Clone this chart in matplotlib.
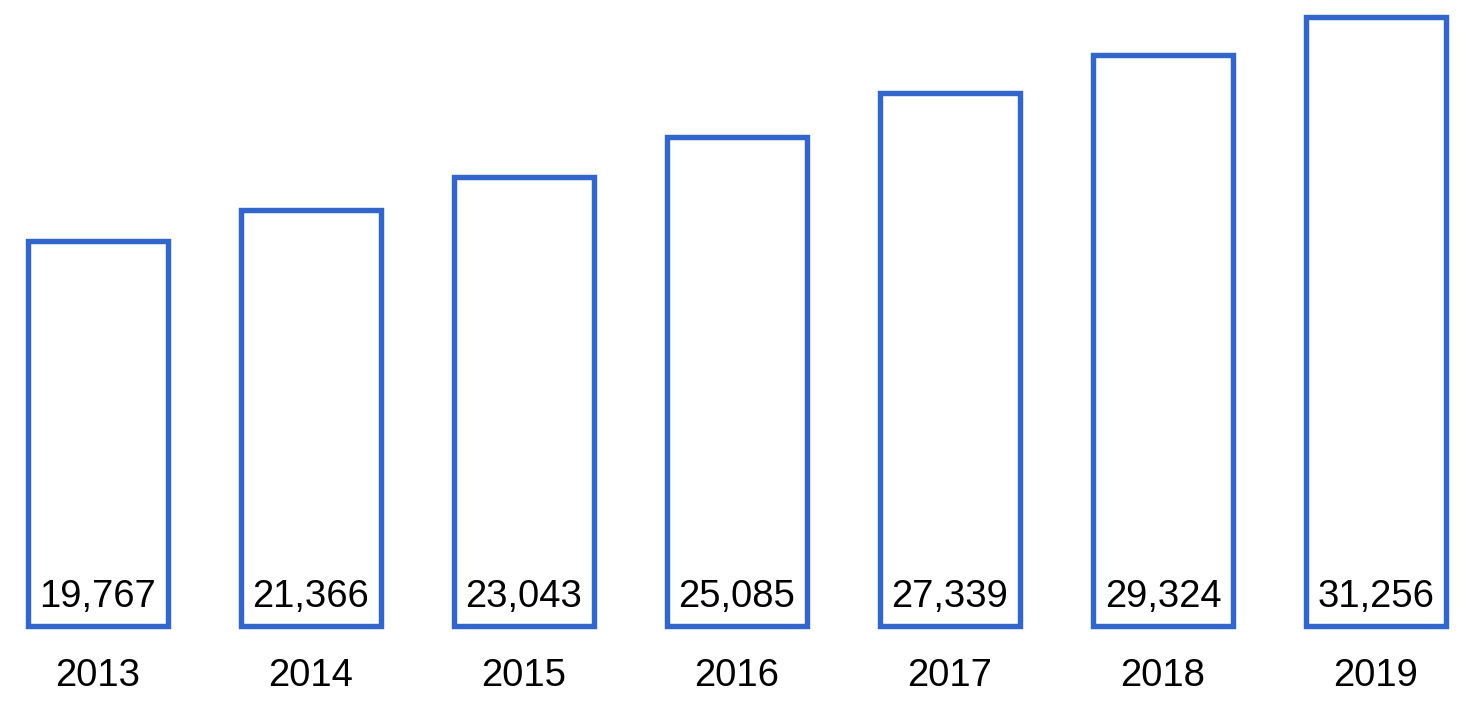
import matplotlib.pyplot as plt

years = ['2013', '2014', '2015', '2016', '2017', '2018', '2019']
values = [19767, 21366, 23043, 25085, 27339, 29324, 31256]

plt.rcParams['font.family'] = ['Liberation Sans', 'DejaVu Sans']

fig = plt.figure(figsize=(14.76, 7.12), dpi=100)
ax = fig.add_axes([0, 0, 1, 1])

# scale: pixels per unit
ppu = 609 / 31256
y_bottom = -86 / ppu
y_top = y_bottom + 712 / ppu
ax.set_xlim(-98 / 213, (1476 - 98) / 213)
ax.set_ylim(y_bottom, y_top)

xs = list(range(len(years)))
ax.bar(xs, values, width=0.66, color='none', edgecolor='#3366CC',
       linewidth=3.9, clip_on=False)

for x, v, yr in zip(xs, values, years):
    ax.text(x, 19 / ppu, f'{v:,}', ha='center', va='baseline', fontsize=27.5)
    ax.text(x, -50 / ppu, yr, ha='center', va='center', fontsize=27.5)

ax.axis('off')
fig.savefig('out.png', dpi=100)
